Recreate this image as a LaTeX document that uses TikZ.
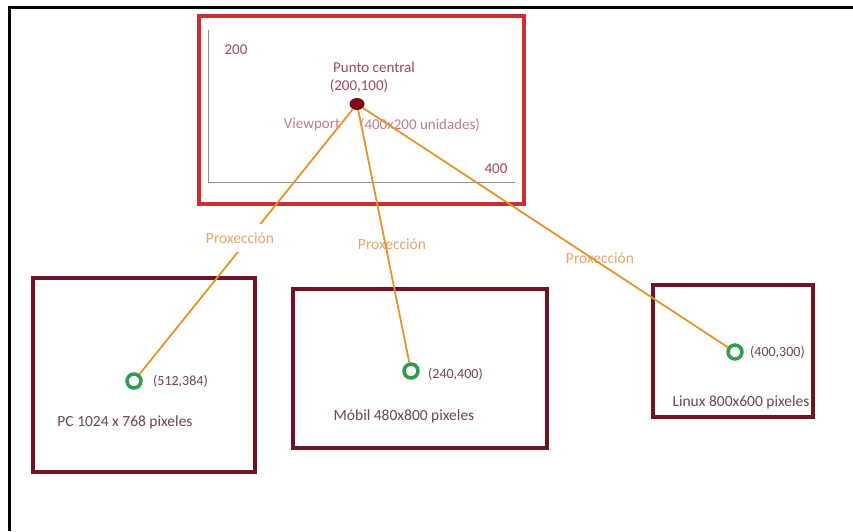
\documentclass[tikz,border=0pt]{standalone}
\usepackage{fontspec}
\setmainfont{Carlito}
\usetikzlibrary{shapes.geometric}
\definecolor{vpred}{HTML}{C9302F}
\definecolor{maroon}{HTML}{6E1426}
\definecolor{dotred}{HTML}{7A0A14}
\definecolor{projor}{HTML}{E8922E}
\definecolor{projtxt}{HTML}{E3A76A}
\definecolor{ringgreen}{HTML}{2E9E4E}
\definecolor{lbl}{HTML}{6A4652}
\definecolor{vptxt}{HTML}{9A4A5C}
\definecolor{axisc}{HTML}{9A8A96}
\tikzset{
  screen/.style={draw=maroon, line width=3.5pt},
  ring/.style={circle, draw=ringgreen, line width=3.5pt, minimum size=14pt, inner sep=0pt},
  proj/.style={draw=projor, line width=1.8pt},
  projlbl/.style={text=projtxt, font=\fontsize{15.5}{17}\selectfont},
  boxlbl/.style={text=lbl, font=\fontsize{15.5}{17}\selectfont, inner sep=0pt},
  coordlbl/.style={text=lbl, font=\fontsize{14}{15}\selectfont, inner sep=0pt},
  vplbl/.style={text=vptxt, font=\fontsize{15}{17}\selectfont, inner sep=0pt}
}
\begin{document}
\begin{tikzpicture}[x=1pt,y=-1pt]
\useasboundingbox (0,0) rectangle (853,531);
\fill[white] (0,0) rectangle (853,531);
% outer frame
\draw[black, line width=3pt] (9,531) -- (9,7) -- (853,7);
% viewport box
\draw[vpred, line width=3.5pt] (199,16) rectangle (524,204);
\draw[axisc, line width=1pt] (208,30) -- (208,182) -- (515,182);
\node[vplbl] (l200) at (236,50) {200};
\node[vplbl] (l400) at (496,169) {400};
\node[vplbl] (pc1) at (374,67) {Punto central};
\node[vplbl] (pc2) at (359,86) {(200,100)};
\node[vplbl, text=vptxt!70] (vp) at (312,125) {Viewport};
\node[vplbl, text=vptxt!70] (vpu) at (420,125) {(400x200 unidades)};
\node[ellipse, fill=dotred, minimum width=15pt, minimum height=12pt, inner sep=0pt] (dot) at (357,104) {};
% screens
\draw[screen] (33,278) rectangle (255,472);
\draw[screen] (293,289) rectangle (547,448);
\draw[screen] (653,285) rectangle (813,417);
% labels (under lines)
\node[projlbl] (p2) at (392,244) {Proxección};
\node[projlbl] (p3) at (600,258) {Proxección};
% rings
\node[ring] (r1) at (134,381) {};
\node[ring] (r2) at (411,371) {};
\node[ring] (r3) at (735,352) {};
% projection lines
\draw[proj] (dot) -- (r1);
\draw[proj] (dot) -- (r2);
\draw[proj] (dot) -- (r3);
\node[projlbl, fill=white, inner ysep=9pt, inner xsep=0pt] (p1) at (240,238) {Proxección};
% screen labels
\node[coordlbl, anchor=west] (c1) at (153,381) {(512,384)};
\node[coordlbl, anchor=west] (c2) at (428,374) {(240,400)};
\node[coordlbl, anchor=west] (c3) at (750,352) {(400,300)};
\node[boxlbl] (s1) at (125,422) {PC 1024 x 768 pixeles};
\node[boxlbl] (s2) at (404,416) {Móbil 480x800 pixeles};
\node[boxlbl] (s3) at (741,402) {Linux 800x600 pixeles};
\end{tikzpicture}
\end{document}
